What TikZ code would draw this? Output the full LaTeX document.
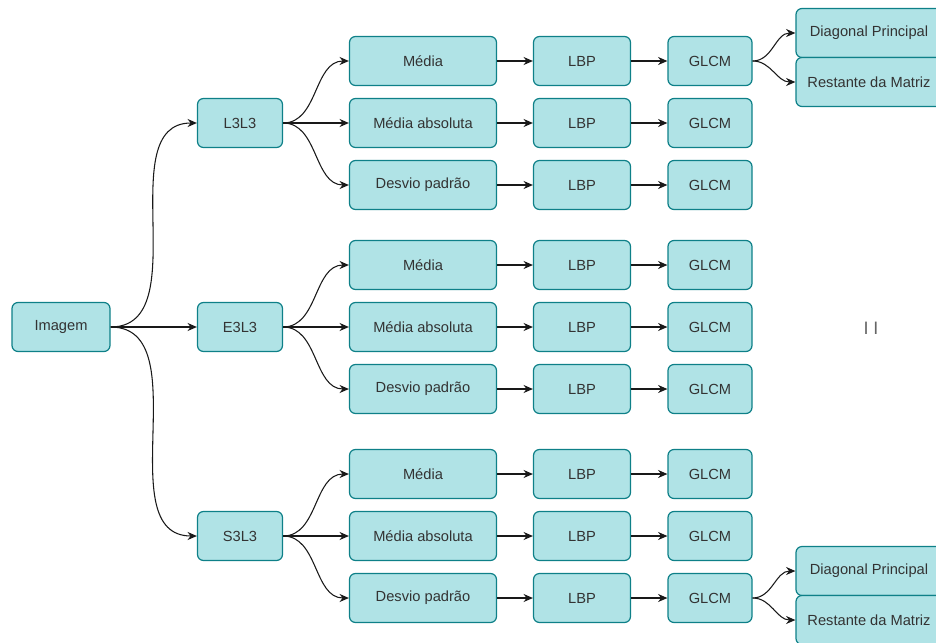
\documentclass[tikz,border=0pt]{standalone}
\usepackage{fontspec}
\setmainfont{Liberation Sans}
\usepackage{xcolor}
\usetikzlibrary{arrows.meta}

\definecolor{boxfill}{HTML}{B0E3E6}
\definecolor{boxline}{HTML}{0E8088}
\definecolor{boxtext}{HTML}{333333}

\tikzset{
  box/.style = {draw = boxline, fill = boxfill, rounded corners = 4.5pt, line width = .9pt,
    minimum height = 36.75pt, inner sep = 0pt, text = boxtext, font = \fontsize{11}{13}\selectfont},
  link/.style = {-{Stealth[length = 7pt, width = 6pt]}, line width = .8pt, black!90},
}

\begin{document}
\begin{tikzpicture}[x = .75pt, y = -.75pt]
  \useasboundingbox (0, 0) rectangle (936, 643);
  \node [box, minimum width = 73.5pt] (img) at (61, 327) {Imagem};
  % filters, each one with three statistics -> LBP -> GLCM
  \foreach \f/\name/\y in {l/L3L3/123, e/E3L3/327, s/S3L3/536} {
    \node [box, minimum width = 63.75pt] (\f) at (240, \y) {\name};
    \draw [link] (img) to [out = 0, in = 180] (\f);
    \foreach \s/\stat/\dy in {m/Média/-62, a/Média absoluta/0, d/Desvio padrão/62} {
      \node [box, minimum width = 110.25pt] (\f\s) at (423, {\y + \dy}) {\stat};
      \node [box, minimum width = 72.75pt] (\f\s-lbp) at (582, {\y + \dy}) {LBP};
      \node [box, minimum width = 63pt] (\f\s-glcm) at (710, {\y + \dy}) {GLCM};
      \draw [link] (\f) to [out = 0, in = 180] (\f\s);
      \draw [link] (\f\s) -- (\f\s-lbp);
      \draw [link] (\f\s-lbp) -- (\f\s-glcm);
    }
  }
  % split of the GLCM
  \node [box, minimum width = 109.5pt] (diag1) at (869, 33) {Diagonal Principal};
  \node [box, minimum width = 109.5pt] (rest1) at (869, 82) {Restante da Matriz};
  \node [box, minimum width = 109.5pt] (diag2) at (869, 571) {Diagonal Principal};
  \node [box, minimum width = 109.5pt] (rest2) at (869, 620) {Restante da Matriz};
  \draw [link] (lm-glcm) to [out = 0, in = 180] (diag1);
  \draw [link] (lm-glcm) to [out = 0, in = 180] (rest1);
  \draw [link] (sd-glcm) to [out = 0, in = 180] (diag2);
  \draw [link] (sd-glcm) to [out = 0, in = 180] (rest2);
  \node [text = black!60, font = \fontsize{13.5}{15}\selectfont] (mark) at (871, 328) {I I};
\end{tikzpicture}
\end{document}
